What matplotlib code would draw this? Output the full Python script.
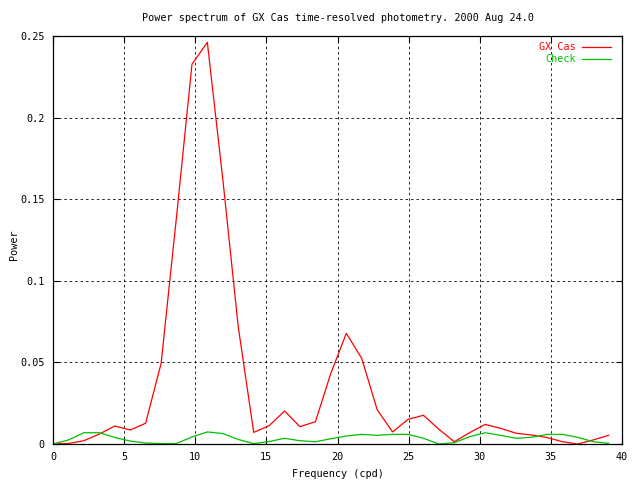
import matplotlib
matplotlib.use("Agg")
import matplotlib.pyplot as plt

# frequency grid (cpd)
freq = [0.00, 1.09, 2.17, 3.26, 4.34, 5.43, 6.51, 7.60, 8.68, 9.77,
        10.85, 11.94, 13.02, 14.11, 15.19, 16.28, 17.36, 18.45, 19.53, 20.62,
        21.70, 22.79, 23.87, 24.96, 26.04, 27.13, 28.21, 29.30, 30.38, 31.47,
        32.55, 33.64, 34.72, 35.81, 36.89, 37.98, 39.06]

gx_cas = [0.0000, 0.0003, 0.0020, 0.0061, 0.0110, 0.0086, 0.0127, 0.0494, 0.1390, 0.2327,
          0.2461, 0.1620, 0.0720, 0.0071, 0.0112, 0.0202, 0.0106, 0.0137, 0.0433, 0.0678,
          0.0525, 0.0210, 0.0074, 0.0151, 0.0176, 0.0090, 0.0014, 0.0070, 0.0120, 0.0096,
          0.0066, 0.0055, 0.0040, 0.0014, 0.0000, 0.0025, 0.0053]

check = [0.0000, 0.0025, 0.0069, 0.0069, 0.0040, 0.0018, 0.0006, 0.0002, 0.0003, 0.0043,
         0.0074, 0.0064, 0.0028, 0.0002, 0.0015, 0.0035, 0.0020, 0.0014, 0.0032, 0.0049,
         0.0059, 0.0053, 0.0059, 0.0059, 0.0035, 0.0000, 0.0008, 0.0045, 0.0069, 0.0053,
         0.0035, 0.0041, 0.0059, 0.0059, 0.0041, 0.0014, 0.0004]

xticks = [0, 5, 10, 15, 20, 25, 30, 35, 40]
yticks = [0, 0.05, 0.1, 0.15, 0.2, 0.25]
ytick_labels = ["0", "0.05", "0.1", "0.15", "0.2", "0.25"]

plt.rcParams['font.family'] = ['DejaVu Sans Mono']
plt.rcParams['font.size'] = 7.3

fig = plt.figure(figsize=(6.4, 4.8), dpi=100)
ax = fig.add_axes([53/640, 36/480, 569/640, 408/480])

ax.plot(freq, gx_cas, color='#ff0000', linewidth=0.9)
ax.plot(freq, check, color='#00c000', linewidth=0.9)

ax.set_xlim(0, 40)
ax.set_ylim(0, 0.25)
ax.set_xticks(xticks)
ax.set_yticks(yticks)
ax.set_yticklabels(ytick_labels)
ax.tick_params(direction='in', top=True, right=True, length=4, width=0.8, pad=6)
ax.grid(True, color='black', linewidth=0.6, linestyle=(0, (3, 3.5)))
for s in ax.spines.values():
    s.set_linewidth(0.9)

# legend, gnuplot style: right-aligned coloured text with line sample
for i, (label, col) in enumerate([("GX Cas", '#ff0000'), ("Check", '#00c000')]):
    y = 0.974 - i * 0.031
    ax.text(0.919, y, label, color=col, ha='right', va='center', transform=ax.transAxes)
    ax.plot([0.929, 0.980], [y, y], color=col, linewidth=0.9, transform=ax.transAxes)

fig.text(0.528, 1 - 18/480, "Power spectrum of GX Cas time-resolved photometry. 2000 Aug 24.0",
         ha='center', va='center')
fig.text(0.528, 1 - 474/480, "Frequency (cpd)", ha='center', va='center')
fig.text(14/640, 1 - 245/480, "Power", ha='center', va='center', rotation=90)

fig.savefig("out.png", dpi=100)
